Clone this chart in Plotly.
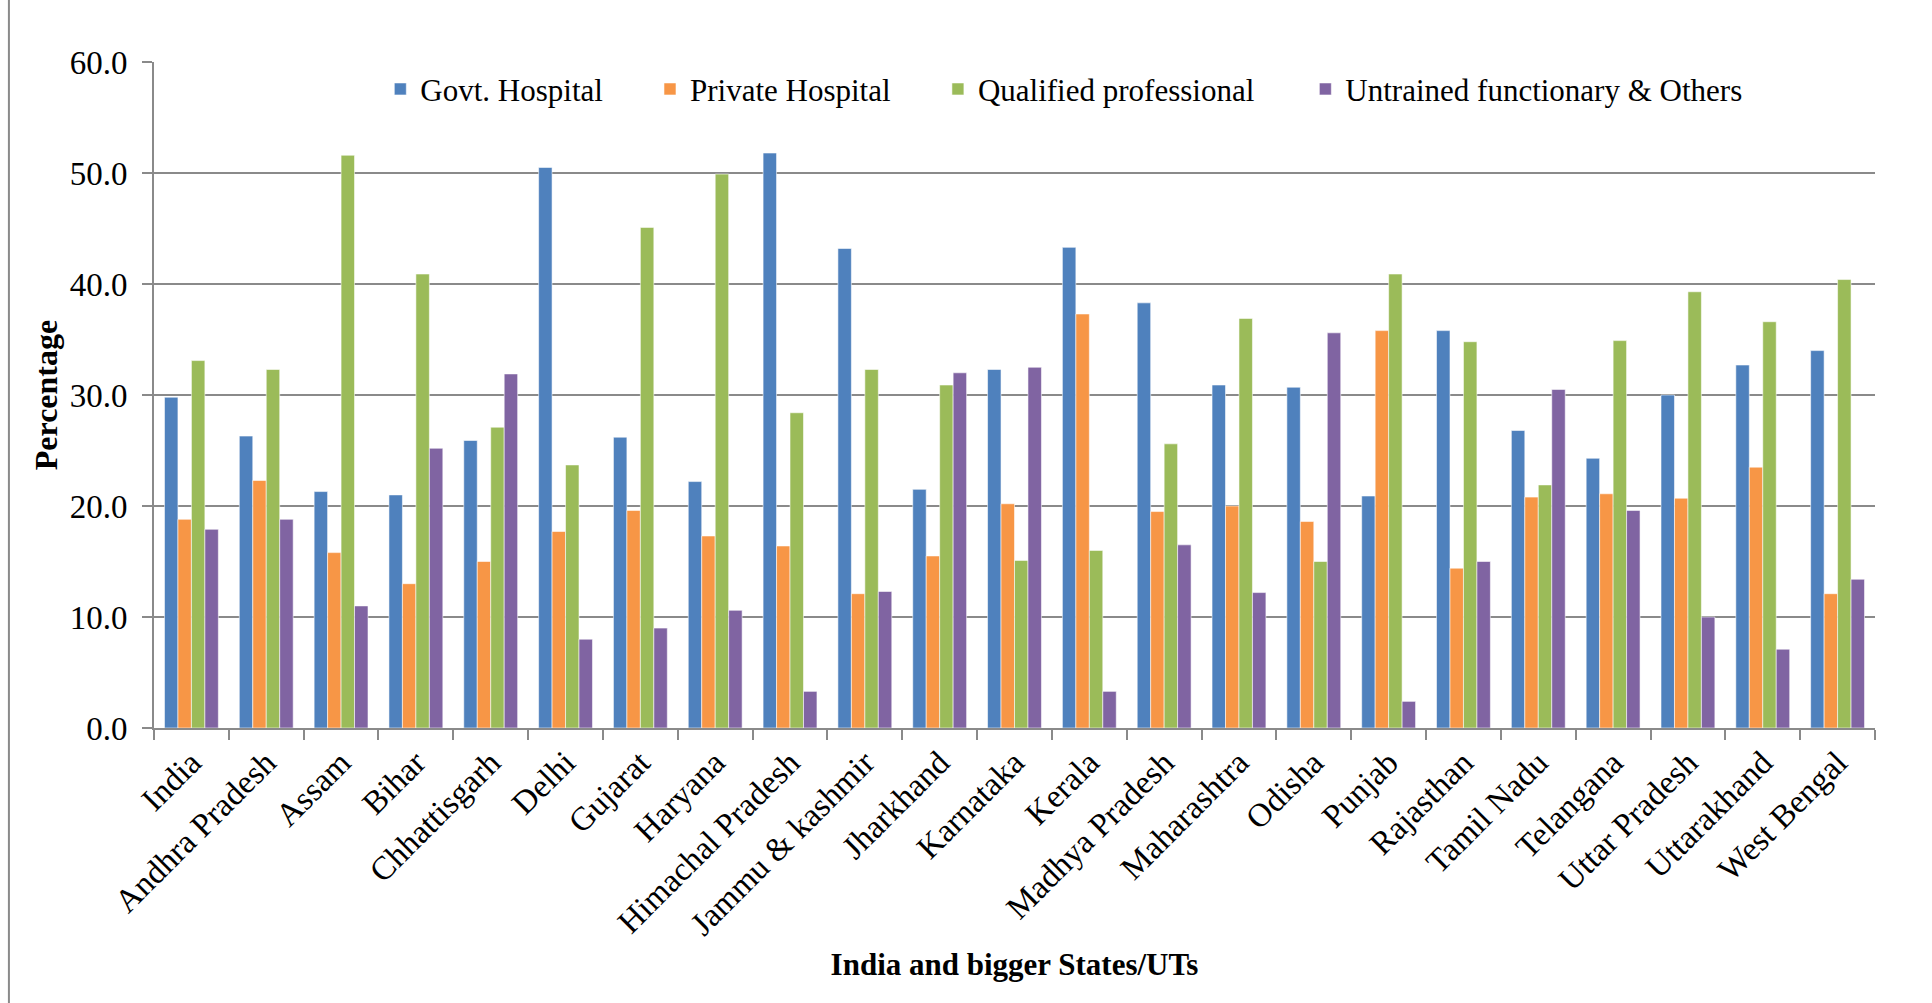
import plotly.graph_objects as go

# Place of delivery by type of attendant, India and bigger States/UTs (percent)
states = [
    "India", "Andhra Pradesh", "Assam", "Bihar", "Chhattisgarh", "Delhi",
    "Gujarat", "Haryana", "Himachal Pradesh", "Jammu & kashmir", "Jharkhand",
    "Karnataka", "Kerala", "Madhya Pradesh", "Maharashtra", "Odisha", "Punjab",
    "Rajasthan", "Tamil Nadu", "Telangana", "Uttar Pradesh", "Uttarakhand",
    "West Bengal",
]

govt_hospital = [29.8, 26.3, 21.3, 21.0, 25.9, 50.5, 26.2, 22.2, 51.8, 43.2,
                 21.5, 32.3, 43.3, 38.3, 30.9, 30.7, 20.9, 35.8, 26.8, 24.3,
                 30.0, 32.7, 34.0]
private_hospital = [18.8, 22.3, 15.8, 13.0, 15.0, 17.7, 19.6, 17.3, 16.4, 12.1,
                    15.5, 20.2, 37.3, 19.5, 20.0, 18.6, 35.8, 14.4, 20.8, 21.1,
                    20.7, 23.5, 12.1]
qualified_professional = [33.1, 32.3, 51.6, 40.9, 27.1, 23.7, 45.1, 49.9, 28.4,
                          32.3, 30.9, 15.1, 16.0, 25.6, 36.9, 15.0, 40.9, 34.8,
                          21.9, 34.9, 39.3, 36.6, 40.4]
untrained_others = [17.9, 18.8, 11.0, 25.2, 31.9, 8.0, 9.0, 10.6, 3.3, 12.3,
                    32.0, 32.5, 3.3, 16.5, 12.2, 35.6, 2.4, 15.0, 30.5, 19.6,
                    10.0, 7.1, 13.4]

series = [
    ("Govt. Hospital", govt_hospital, "#4F81BD", "legend"),
    ("Private Hospital", private_hospital, "#F79646", "legend2"),
    ("Qualified professional", qualified_professional, "#9BBB59", "legend3"),
    ("Untrained functionary & Others", untrained_others, "#8064A2", "legend4"),
]

FONT = "Liberation Serif, Times New Roman, serif"
GRID = "#8a8a8a"

fig = go.Figure()
for name, values, color, leg in series:
    fig.add_trace(go.Bar(
        x=states, y=values, name=name, legend=leg,
        marker=dict(color=color, line=dict(color="rgba(255,255,255,0.7)", width=0.8)),
    ))

legend_common = dict(
    orientation="h", yanchor="middle", y=0.959, xanchor="left",
    bgcolor="rgba(0,0,0,0)", font=dict(family=FONT, size=31, color="black"),
    borderwidth=0,
)

fig.update_layout(
    width=1932, height=1003,
    margin=dict(l=154, r=57, t=62, b=275),
    paper_bgcolor="white", plot_bgcolor="white",
    font=dict(family=FONT, size=30, color="black"),
    barmode="group", bargap=0.28, bargroupgap=0,
    showlegend=True,
    legend=dict(x=0.1315, **legend_common),
    legend2=dict(x=0.2882, **legend_common),
    legend3=dict(x=0.4555, **legend_common),
    legend4=dict(x=0.6690, **legend_common),
    xaxis=dict(
        title=dict(text="<b>India and bigger States/UTs</b>",
                   font=dict(family=FONT, size=31), standoff=12),
        tickangle=-45, tickson="boundaries", ticks="outside", ticklen=10,
        tickwidth=2, tickcolor=GRID, showline=True, linecolor=GRID, linewidth=2,
        tickfont=dict(family=FONT, size=33), showgrid=False,
    ),
    yaxis=dict(
        title=dict(text="<b>Percentage</b>", font=dict(family=FONT, size=32),
                   standoff=2),
        range=[0, 60], dtick=10, tickformat=".1f",
        ticks="outside", ticklen=10, tickwidth=2, tickcolor=GRID,
        ticklabelstandoff=8,
        showline=True, linecolor=GRID, linewidth=2,
        showgrid=True, gridcolor=GRID, gridwidth=2,
        tickfont=dict(family=FONT, size=33), zeroline=False,
    ),
)

# outer chart border on the left edge
fig.add_shape(type="line", xref="paper", yref="paper",
              x0=-0.0843, x1=-0.0843, y0=-0.42, y1=1.1,
              line=dict(color="#8a8a8a", width=2))

fig.write_html("out.html")
